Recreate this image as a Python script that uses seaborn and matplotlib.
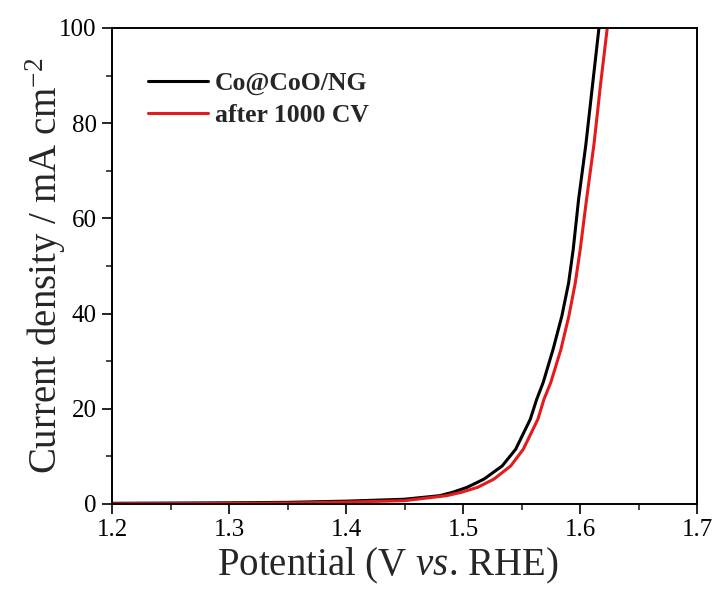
import numpy as np
import pandas as pd
import matplotlib
matplotlib.use("Agg")
import matplotlib.pyplot as plt
import seaborn as sns

# ---- data ----
potential_fresh = [1.20, 1.25, 1.30, 1.35, 1.40, 1.45, 1.4800, 1.4910, 1.5035, 1.5180,
                   1.5335, 1.5450, 1.5575, 1.5630, 1.5685, 1.5770, 1.5845, 1.5903, 1.5942,
                   1.5988, 1.605, 1.6107, 1.6162]
current_fresh = [0.15, 0.20, 0.25, 0.35, 0.60, 1.00, 1.75, 2.45, 3.50, 5.24,
                 8.0, 11.5, 17.8, 22.0, 25.5, 32.5, 39.5, 46.5, 53.5,
                 64.0, 75.5, 88.0, 100.0]

potential_cv = [1.20, 1.25, 1.30, 1.35, 1.40, 1.45, 1.4860, 1.4985, 1.5125, 1.5265,
                1.5408, 1.5515, 1.5640, 1.5692, 1.5750, 1.5837, 1.5905, 1.5960, 1.6002,
                1.6056, 1.6119, 1.6175, 1.6233]
current_cv = [0.05, 0.08, 0.12, 0.20, 0.40, 0.70, 1.75, 2.45, 3.50, 5.24,
              8.0, 11.5, 17.8, 22.0, 25.5, 32.5, 39.5, 46.5, 53.5,
              64.0, 75.5, 88.0, 100.0]

series_names = ["Co@CoO/NG", "after 1000 CV"]
series_colors = ["#000000", "#e41a1c"]

x_ticks = [1.2, 1.3, 1.4, 1.5, 1.6, 1.7]
y_ticks = [0, 20, 40, 60, 80, 100]

df = pd.concat([
    pd.DataFrame({"Potential": potential_fresh, "Current": current_fresh, "Sample": series_names[0]}),
    pd.DataFrame({"Potential": potential_cv, "Current": current_cv, "Sample": series_names[1]}),
], ignore_index=True)

sns.set_theme(style="ticks")
plt.rcParams["font.family"] = ["Liberation Serif", "DejaVu Serif"]
plt.rcParams["mathtext.fontset"] = "custom"
plt.rcParams["mathtext.rm"] = "Liberation Serif"
plt.rcParams["mathtext.it"] = "Liberation Serif:italic"

fig = plt.figure(figsize=(7.16, 5.94), dpi=100)
ax = fig.add_axes([112/716, 90/594, 585/716, 476/594])

sns.lineplot(data=df, x="Potential", y="Current", hue="Sample", hue_order=series_names,
             palette=series_colors, linewidth=2.2, sort=False, estimator=None, ax=ax)

ax.set_xlim(1.2, 1.7)
ax.set_ylim(0, 100)
ax.set_xticks(x_ticks)
ax.set_yticks(y_ticks)
ax.set_xticks(np.arange(1.25, 1.7, 0.1), minor=True)
ax.set_yticks(np.arange(10, 100, 20), minor=True)
ax.set_xticklabels([f"{v:.1f}" for v in x_ticks])
ax.set_yticklabels([str(v) for v in y_ticks])
ax.tick_params(axis="both", which="major", direction="out", length=7, width=1.2,
               labelsize=18, colors="black", pad=4)
ax.tick_params(axis="both", which="minor", direction="out", length=4, width=1.2)
ax.tick_params(top=False, right=False)
for s in ax.spines.values():
    s.set_visible(True)
    s.set_linewidth(1.4)
    s.set_color("black")

ax.set_xlabel("Potential (V $\\it{vs}$. RHE)", fontsize=28)
ax.set_ylabel("Current density / mA cm$^{-2}$", fontsize=28)
ax.xaxis.set_label_coords(0.472, -0.088)
ax.yaxis.set_label_coords(-0.076, 0.5)

leg = ax.legend(loc="upper left", bbox_to_anchor=(0.0615, 0.908), frameon=False,
                borderpad=0, borderaxespad=0,
                handlelength=2.33, handletextpad=0.27, labelspacing=0.36,
                prop={"family": "Liberation Serif", "weight": "bold", "size": 18.5})

fig.savefig("out.png", dpi=100)
